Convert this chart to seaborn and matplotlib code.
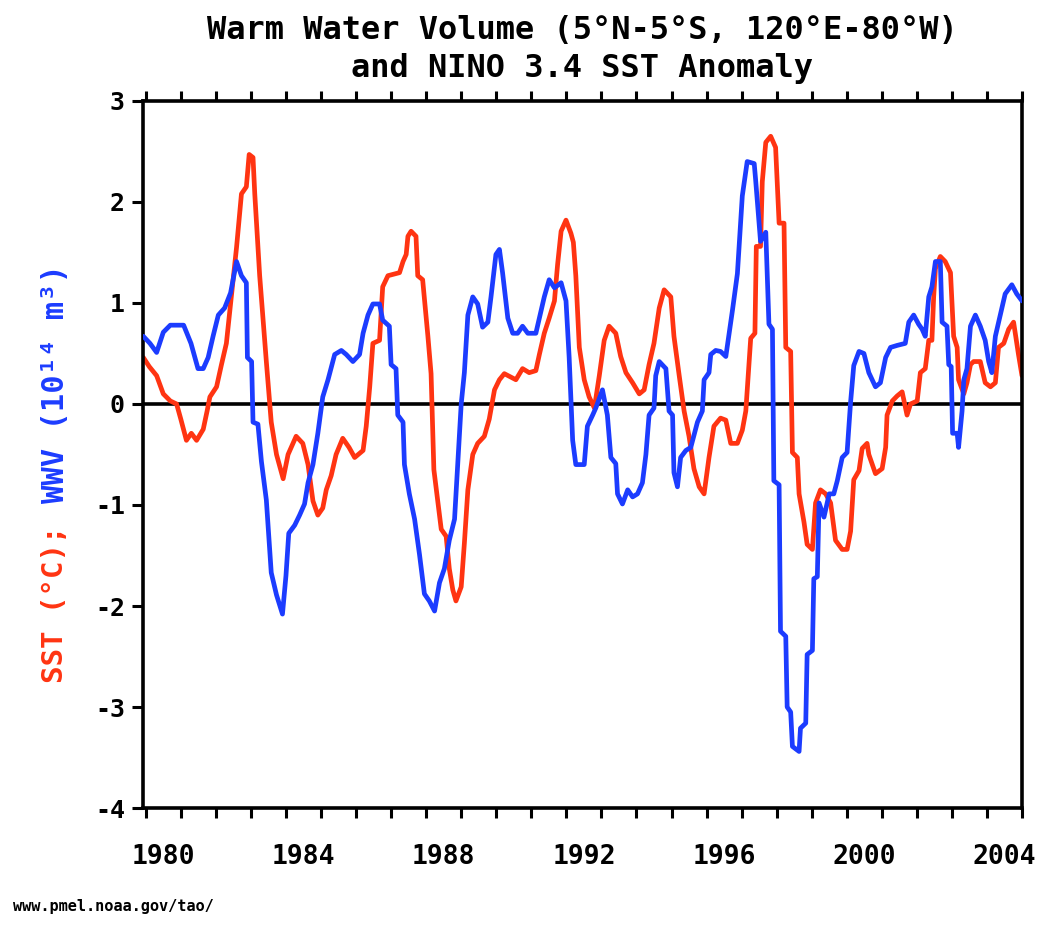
import numpy as np
import pandas as pd
import matplotlib
matplotlib.use("Agg")
import matplotlib.pyplot as plt
import seaborn as sns

# Niño 3.4 SST anomaly (red)
sst_year = [1979.43, 1979.60, 1979.81, 1980.00, 1980.20, 1980.38, 1980.50, 1980.66, 1980.80, 1980.95,
            1981.14, 1981.25, 1981.33, 1981.52, 1981.66, 1981.80, 1981.94, 1982.09, 1982.23, 1982.37,
            1982.45, 1982.56, 1982.61, 1982.75, 1982.94, 1983.08, 1983.23, 1983.42, 1983.56, 1983.65,
            1983.79, 1983.98, 1984.13, 1984.27, 1984.41, 1984.55, 1984.65, 1984.79, 1984.93, 1985.12,
            1985.30, 1985.46, 1985.70, 1985.79, 1985.89, 1985.98, 1986.17, 1986.26, 1986.41, 1986.74,
            1986.84, 1986.93, 1986.98, 1987.07, 1987.21, 1987.26, 1987.40, 1987.55, 1987.64, 1987.72,
            1987.93, 1988.07, 1988.16, 1988.26, 1988.35, 1988.50, 1988.59, 1988.69, 1988.83, 1988.97,
            1989.16, 1989.30, 1989.45, 1989.59, 1989.73, 1990.06, 1990.25, 1990.44, 1990.63, 1990.73,
            1990.87, 1991.01, 1991.16, 1991.25, 1991.35, 1991.49, 1991.63, 1991.70, 1991.77, 1991.87,
            1992.01, 1992.15, 1992.30, 1992.44, 1992.58, 1992.72, 1992.91, 1993.05, 1993.20, 1993.39,
            1993.58, 1993.72, 1993.86, 1994.00, 1994.15, 1994.29, 1994.48, 1994.57, 1994.72, 1994.86,
            1995.00, 1995.14, 1995.29, 1995.43, 1995.57, 1995.71, 1995.90, 1996.05, 1996.19, 1996.38,
            1996.52, 1996.62, 1996.76, 1996.88, 1996.92, 1997.04, 1997.09, 1997.19, 1997.33, 1997.47,
            1997.57, 1997.71, 1997.76, 1997.90, 1997.95, 1998.09, 1998.14, 1998.28, 1998.37, 1998.52,
            1998.61, 1998.75, 1998.90, 1999.04, 1999.18, 1999.37, 1999.51, 1999.61, 1999.70, 1999.85,
            1999.94, 2000.08, 2000.13, 2000.32, 2000.51, 2000.61, 2000.65, 2000.80, 2000.94, 2001.08,
            2001.22, 2001.32, 2001.51, 2001.60, 2001.74, 2001.84, 2001.93, 2001.98, 2002.03, 2002.17,
            2002.31, 2002.46, 2002.55, 2002.65, 2002.69, 2002.84, 2002.93, 2003.03, 2003.12, 2003.31,
            2003.45, 2003.60, 2003.74, 2003.83, 2003.98, 2004.12, 2004.26, 2004.40, 2004.50]
sst = [0.46, 0.37, 0.28, 0.10, 0.03, 0.00, -0.15, -0.36, -0.29, -0.36,
       -0.25, -0.07, 0.07, 0.17, 0.39, 0.60, 1.06, 1.55, 2.08, 2.15,
       2.47, 2.44, 2.08, 1.27, 0.42, -0.18, -0.50, -0.74, -0.50, -0.43,
       -0.32, -0.39, -0.60, -0.96, -1.10, -1.03, -0.85, -0.71, -0.50, -0.34,
       -0.43, -0.53, -0.46, -0.22, 0.17, 0.60, 0.63, 1.16, 1.27, 1.30,
       1.41, 1.48, 1.66, 1.71, 1.66, 1.27, 1.23, 0.67, 0.30, -0.65,
       -1.24, -1.31, -1.63, -1.84, -1.95, -1.81, -1.38, -0.85, -0.50, -0.39,
       -0.32, -0.15, 0.14, 0.24, 0.30, 0.24, 0.35, 0.31, 0.33, 0.49,
       0.70, 0.85, 1.02, 1.38, 1.71, 1.82, 1.69, 1.60, 1.27, 0.56,
       0.24, 0.07, -0.04, 0.28, 0.63, 0.77, 0.70, 0.47, 0.31, 0.21,
       0.10, 0.14, 0.39, 0.60, 0.95, 1.13, 1.06, 0.67, 0.28, -0.07,
       -0.32, -0.64, -0.82, -0.89, -0.53, -0.22, -0.14, -0.16, -0.39, -0.39,
       -0.26, -0.07, 0.65, 0.70, 1.56, 1.56, 2.20, 2.59, 2.65, 2.54,
       1.79, 1.79, 0.56, 0.52, -0.48, -0.53, -0.89, -1.17, -1.39, -1.44,
       -0.98, -0.85, -0.89, -0.98, -1.35, -1.44, -1.44, -1.26, -0.75, -0.66,
       -0.44, -0.39, -0.50, -0.69, -0.64, -0.43, -0.11, 0.03, 0.08, 0.12,
       -0.11, 0.00, 0.03, 0.31, 0.35, 0.63, 0.63, 1.06, 1.34, 1.46,
       1.41, 1.30, 0.67, 0.56, 0.24, 0.10, 0.21, 0.39, 0.42, 0.42,
       0.21, 0.17, 0.21, 0.56, 0.60, 0.74, 0.81, 0.49, 0.28]

# warm water volume anomaly, 10^14 m^3 (blue)
wwv_year = [1979.43, 1979.62, 1979.81, 1980.00, 1980.20, 1980.58, 1980.79, 1980.99, 1981.14, 1981.28,
            1981.42, 1981.57, 1981.75, 1981.92, 1982.09, 1982.23, 1982.37, 1982.40, 1982.52, 1982.56,
            1982.70, 1982.80, 1982.94, 1983.08, 1983.23, 1983.40, 1983.50, 1983.58, 1983.75, 1983.89,
            1984.03, 1984.13, 1984.27, 1984.41, 1984.55, 1984.70, 1984.89, 1985.08, 1985.22, 1985.41,
            1985.60, 1985.70, 1985.84, 1985.98, 1986.17, 1986.26, 1986.45, 1986.50, 1986.64, 1986.69,
            1986.84, 1986.88, 1987.02, 1987.17, 1987.31, 1987.45, 1987.59, 1987.74, 1987.88, 1988.02,
            1988.16, 1988.31, 1988.40, 1988.50, 1988.59, 1988.69, 1988.83, 1988.97, 1989.11, 1989.26,
            1989.35, 1989.49, 1989.59, 1989.68, 1989.83, 1989.97, 1990.11, 1990.25, 1990.40, 1990.63,
            1990.73, 1990.87, 1991.01, 1991.16, 1991.35, 1991.49, 1991.58, 1991.68, 1991.77, 1992.01,
            1992.10, 1992.25, 1992.34, 1992.53, 1992.67, 1992.77, 1992.91, 1992.96, 1993.10, 1993.25,
            1993.39, 1993.53, 1993.67, 1993.77, 1993.86, 1994.00, 1994.05, 1994.15, 1994.34, 1994.43,
            1994.53, 1994.57, 1994.67, 1994.76, 1994.91, 1995.05, 1995.24, 1995.38, 1995.43, 1995.57,
            1995.62, 1995.76, 1995.90, 1996.05, 1996.24, 1996.38, 1996.52, 1996.66, 1996.86, 1996.90,
            1997.04, 1997.19, 1997.28, 1997.38, 1997.42, 1997.57, 1997.61, 1997.76, 1997.80, 1997.90,
            1997.95, 1998.14, 1998.18, 1998.33, 1998.37, 1998.52, 1998.56, 1998.66, 1998.71, 1998.85,
            1999.00, 1999.13, 1999.23, 1999.37, 1999.51, 1999.61, 1999.70, 1999.85, 1999.99, 2000.13,
            2000.32, 2000.46, 2000.61, 2000.75, 2000.94, 2001.17, 2001.27, 2001.41, 2001.55, 2001.65,
            2001.74, 2001.84, 2001.93, 2002.03, 2002.17, 2002.22, 2002.36, 2002.41, 2002.48, 2002.52,
            2002.65, 2002.69, 2002.79, 2002.84, 2002.93, 2003.03, 2003.17, 2003.31, 2003.45, 2003.55,
            2003.64, 2003.74, 2003.88, 2004.02, 2004.21, 2004.35, 2004.50]
wwv = [0.67, 0.60, 0.51, 0.71, 0.78, 0.78, 0.60, 0.35, 0.35, 0.46,
       0.67, 0.88, 0.95, 1.10, 1.41, 1.27, 1.20, 0.46, 0.42, -0.18,
       -0.20, -0.57, -0.95, -1.67, -1.89, -2.08, -1.70, -1.28, -1.20, -1.10,
       -0.99, -0.78, -0.60, -0.29, 0.07, 0.24, 0.49, 0.53, 0.49, 0.42,
       0.49, 0.70, 0.88, 0.99, 0.99, 0.83, 0.77, 0.39, 0.35, -0.11,
       -0.18, -0.60, -0.89, -1.14, -1.49, -1.88, -1.95, -2.05, -1.77, -1.63,
       -1.35, -1.14, -0.60, 0.00, 0.31, 0.88, 1.06, 0.99, 0.76, 0.81,
       1.06, 1.48, 1.53, 1.30, 0.85, 0.70, 0.70, 0.77, 0.70, 0.70,
       0.85, 1.06, 1.23, 1.15, 1.20, 1.02, 0.46, -0.36, -0.60, -0.60,
       -0.22, -0.11, -0.04, 0.14, -0.11, -0.53, -0.59, -0.89, -0.99, -0.85,
       -0.92, -0.89, -0.78, -0.50, -0.11, -0.04, 0.28, 0.42, 0.35, -0.07,
       -0.11, -0.68, -0.82, -0.53, -0.46, -0.43, -0.18, -0.07, 0.24, 0.31,
       0.49, 0.53, 0.52, 0.47, 0.93, 1.29, 2.06, 2.40, 2.38, 2.22,
       1.61, 1.70, 0.79, 0.74, -0.76, -0.80, -2.25, -2.30, -3.00, -3.05,
       -3.39, -3.44, -3.21, -3.16, -2.48, -2.44, -1.73, -1.71, -0.98, -1.12,
       -0.89, -0.89, -0.76, -0.53, -0.48, 0.02, 0.38, 0.52, 0.50, 0.31,
       0.17, 0.21, 0.46, 0.56, 0.58, 0.60, 0.81, 0.88, 0.79, 0.74,
       0.67, 1.06, 1.16, 1.41, 1.41, 0.81, 0.77, 0.39, 0.37, -0.29,
       -0.29, -0.43, -0.07, 0.24, 0.35, 0.77, 0.88, 0.77, 0.63, 0.42,
       0.31, 0.67, 0.88, 1.09, 1.18, 1.09, 1.02]

year_labels = [1980, 1984, 1988, 1992, 1996, 2000, 2004]
y_ticks = [-4, -3, -2, -1, 0, 1, 2, 3]

RED = "#ff3412"
BLUE = "#1c3cff"

sns.set_theme(style="ticks")
plt.rcParams["font.family"] = ["DejaVu Sans Mono", "DejaVu Sans"]
plt.rcParams["font.weight"] = "bold"
plt.rcParams["text.color"] = "black"
plt.rcParams["xtick.color"] = "black"
plt.rcParams["ytick.color"] = "black"
plt.rcParams["xtick.labelcolor"] = "black"
plt.rcParams["ytick.labelcolor"] = "black"

fig = plt.figure(figsize=(10.42, 9.26), dpi=100)
ax = fig.add_axes([0.1372, 0.1274, 0.8436, 0.7636])

sst_df = pd.DataFrame({"year": sst_year, "value": sst})
wwv_df = pd.DataFrame({"year": wwv_year, "value": wwv})

ax.axhline(0, color="black", lw=2.6, zorder=1)
sns.lineplot(data=wwv_df, x="year", y="value", color=BLUE, lw=3.4,
             estimator=None, sort=False, ax=ax, zorder=3)
sns.lineplot(data=sst_df, x="year", y="value", color=RED, lw=3.4,
             estimator=None, sort=False, ax=ax, zorder=2)

ax.set_xlim(1979.42, 2004.46)
ax.set_ylim(-4, 3)

# year labels without marks, marks at mid-year on top and bottom
ax.set_xticks(year_labels)
ax.set_xticklabels([str(y) for y in year_labels], fontsize=19, fontweight="bold", color="black")
ax.set_xticks(np.arange(1979.5, 2004.6, 1.0), minor=True)
ax.tick_params(axis="x", which="major", length=0, pad=26)
ax.tick_params(axis="x", which="minor", length=7, width=2.2, direction="out",
               top=True, bottom=True, color="black")
ax.set_yticks(y_ticks)
ax.set_yticklabels([str(v) for v in y_ticks], fontsize=18, fontweight="bold", color="black")
ax.tick_params(axis="y", which="major", length=8, width=2.2, direction="out",
               left=True, right=False, pad=5, color="black")
ax.tick_params(axis="y", which="minor", length=0)

for side in ["left", "right", "top", "bottom"]:
    ax.spines[side].set_visible(True)
    ax.spines[side].set_color("black")
    ax.spines[side].set_linewidth(2.6)

ax.set_xlabel("")
ax.set_ylabel("")
ax.grid(False)

# titles
fig.text(0.559, 0.967, "Warm Water Volume (5°N-5°S, 120°E-80°W)",
         ha="center", va="center", fontsize=23, fontweight="bold", color="black")
fig.text(0.559, 0.926, "and NINO 3.4 SST Anomaly",
         ha="center", va="center", fontsize=23, fontweight="bold", color="black")

# two-coloured y label
fig.text(0.053, 0.262, "SST (°C);", rotation=90, ha="center", va="bottom",
         color=RED, fontsize=21, fontweight="bold")
fig.text(0.053, 0.457, "WWV (10¹⁴ m³)", rotation=90, ha="center", va="bottom",
         color=BLUE, fontsize=22, fontweight="bold")

fig.text(0.012, 0.013, "www.pmel.noaa.gov/tao/", ha="left", va="bottom",
         fontsize=11, fontweight="bold", color="black")

fig.savefig("out.png", dpi=100, facecolor="white")
